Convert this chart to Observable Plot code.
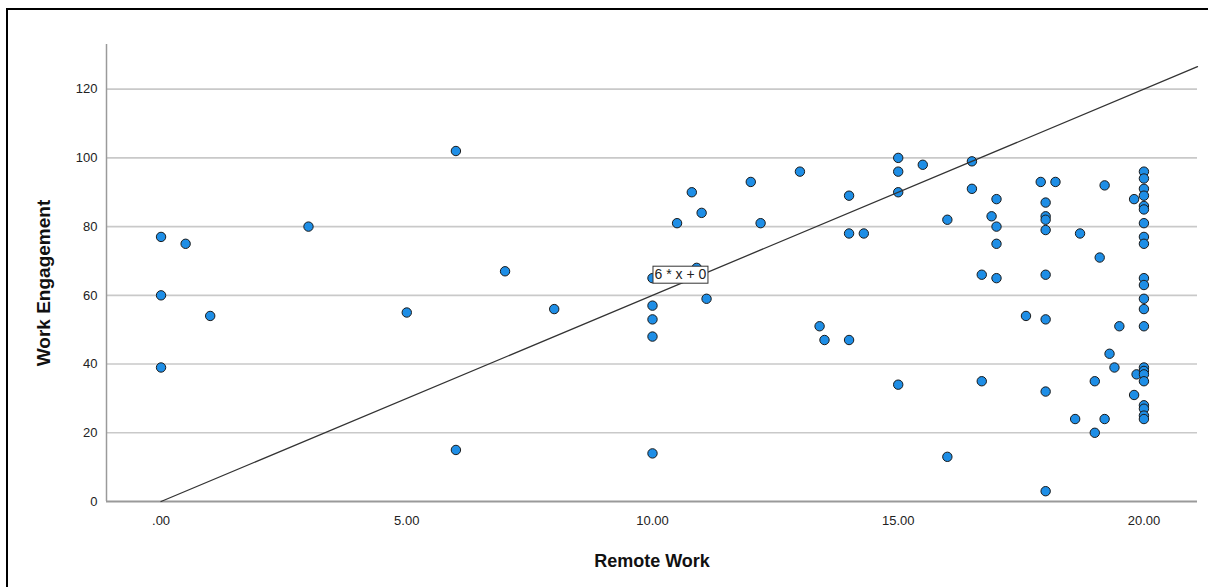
<!DOCTYPE html>
<html>
<head>
<meta charset="utf-8">
<script src="https://cdn.jsdelivr.net/npm/d3@7"></script>
<script src="https://cdn.jsdelivr.net/npm/@observablehq/plot@0.6"></script>
<style>
  html, body { margin: 0; padding: 0; background: #fff; overflow: hidden; }
  #wrap { position: relative; width: 1208px; height: 587px; }
  #border { position: absolute; left: 6px; top: 8px; width: 1300px; height: 700px;
            border-left: 2px solid #000; border-top: 2px solid #000; box-sizing: border-box; pointer-events: none; }
  #chart { position: absolute; left: 0; top: 0; }
</style>
</head>
<body>
<div id="wrap"><div id="chart"></div><div id="border"></div></div>
<script>
// ---- data ----
const remoteWork = [
  0, 0, 0, 0.5, 1, 3, 5, 6, 6, 7, 8,
  10, 10, 10, 10, 10, 10.5, 10.8, 11, 10.9, 11.1,
  12, 12.2, 13, 14, 14, 14, 14.3, 13.4, 13.5,
  15, 15, 15, 15, 15.5, 16.5, 16.5, 16, 16,
  17, 17, 17, 17, 16.9, 16.7, 16.7,
  17.9, 18.2, 18, 18, 18, 18, 18, 18, 18, 18,
  18.7, 17.6, 18.6, 19.2, 19.2, 19.8, 19.8, 19.1, 19.5, 19.3, 19.4, 19, 19, 19.85,
  20, 20, 20, 20, 20, 20, 20, 20, 20, 20, 20, 20, 20, 20, 20, 20, 20, 20, 20, 20, 20, 20
];
const engagement = [
  77, 60, 39, 75, 54, 80, 55, 102, 15, 67, 56,
  65, 57, 53, 48, 14, 81, 90, 84, 68, 59,
  93, 81, 96, 89, 78, 47, 78, 51, 47,
  100, 96, 90, 34, 98, 99, 91, 82, 13,
  88, 80, 75, 65, 83, 66, 35,
  93, 93, 87, 83, 82, 79, 66, 53, 32, 3,
  78, 54, 24, 92, 24, 88, 31, 71, 51, 43, 39, 35, 20, 37,
  96, 94, 91, 89, 86, 85, 81, 77, 75, 65, 63, 59, 56, 51, 39, 38, 37, 35, 28, 27, 25, 24
];
const xTicks = [0, 5, 10, 15, 20];
const xTickLabels = [".00", "5.00", "10.00", "15.00", "20.00"];
const yTicks = [0, 20, 40, 60, 80, 100, 120];
const xDomain = [-1.11, 21.09];
const yDomain = [0, 133];
const fitSlope = 6;
const fitIntercept = 0;
const fitLabel = "6 * x + 0";
const fitLabelAt = [10, 66];
const xTitle = "Remote Work";
const yTitle = "Work Engagement";

// ---- build tables ----
const points = remoteWork.map((x, i) => ({x, y: engagement[i]}));
const fitLine = [0, xDomain[1]].map(x => ({x, y: fitIntercept + fitSlope * x}));
const font = "'Liberation Sans', Arial, sans-serif";

const chart = Plot.plot({
  width: 1208,
  height: 587,
  marginLeft: 106,
  marginRight: 11,
  marginTop: 44,
  marginBottom: 86,
  x: {domain: xDomain},
  y: {domain: yDomain},
  style: {fontFamily: font, background: "transparent", color: "#222"},
  marks: [
    Plot.ruleY(yTicks.filter(d => d > 0), {stroke: "#c9c9c9", strokeWidth: 1.6}),
    Plot.ruleX([xDomain[0]], {stroke: "#9a9a9a", strokeWidth: 1.5}),
    Plot.ruleY([0], {stroke: "#9a9a9a", strokeWidth: 2}),
    Plot.axisY({ticks: yTicks, tickSize: 0, tickPadding: 9, fontSize: 13, label: null}),
    Plot.axisX({ticks: xTicks, tickFormat: d => xTickLabels[xTicks.indexOf(d)], tickSize: 0, tickPadding: 14, fontSize: 13, label: null}),
    Plot.dot(points, {x: "x", y: "y", r: 4.7, fill: "#1e8ee6", stroke: "#1a1a1a", strokeWidth: 1}),
    Plot.line(fitLine, {x: "x", y: "y", stroke: "#333", strokeWidth: 1.3}),
    Plot.text([fitLabel], {x: () => fitLabelAt[0], y: () => fitLabelAt[1], text: d => d, textAnchor: "start", lineAnchor: "middle", dx: 2, fontSize: 14, fill: "#222"}),
    Plot.text([xTitle], {frameAnchor: "bottom", text: d => d, textAnchor: "middle", lineAnchor: "middle", dy: 60, fontSize: 18, fontWeight: "bold", fill: "#111"}),
    Plot.text([yTitle], {frameAnchor: "left", text: d => d, textAnchor: "middle", lineAnchor: "middle", rotate: -90, dx: -63, dy: 10, fontSize: 19, fontWeight: "bold", fill: "#111"})
  ]
});
document.getElementById("chart").appendChild(chart);

// white box with border behind the fit label
chart.querySelectorAll("text").forEach(t => {
  if (t.textContent !== fitLabel) return;
  const b = t.getBBox();
  const r = document.createElementNS("http://www.w3.org/2000/svg", "rect");
  r.setAttribute("x", b.x - 1.5);
  r.setAttribute("y", b.y);
  r.setAttribute("width", b.width + 3);
  r.setAttribute("height", b.height + 1);
  r.setAttribute("fill", "#fff");
  r.setAttribute("stroke", "#333");
  r.setAttribute("stroke-width", 1);
  if (t.getAttribute("transform")) r.setAttribute("transform", t.getAttribute("transform"));
  t.parentNode.insertBefore(r, t);
});
</script>
</body>
</html>
